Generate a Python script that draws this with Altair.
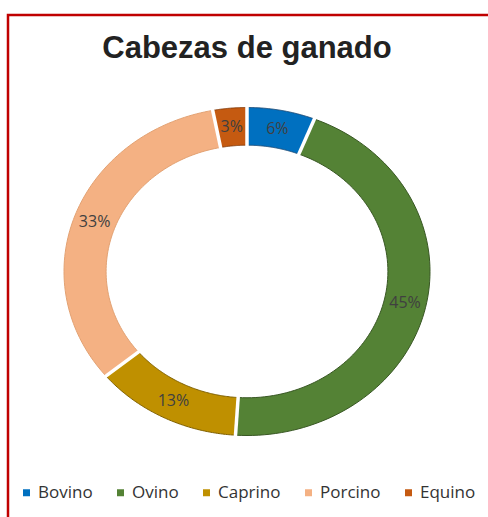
import altair as alt
import pandas as pd

title_text = "Cabezas de ganado"
categories = ["Bovino", "Ovino", "Caprino", "Porcino", "Equino"]
values = [6, 45, 13, 33, 3]
fill_colors = ["#0070C0", "#548235", "#BF9000", "#F4B183", "#C55A11"]
edge_colors = ["#1F4E79", "#385723", "#7F6000", "#E3A273", "#843C0C"]

df = pd.DataFrame({"cat": categories, "val": values, "k": list(range(len(categories)))})
title_df = pd.DataFrame({"t": [title_text]})

W, H = 488, 517
CX, CY = 247, 271.5
RX, RY = 183, 164
INNER = 0.77
N = 90

xs = alt.Scale(domain=[-1, 1], range=[CX - RX, CX + RX], nice=False, zero=False)
ys = alt.Scale(domain=[-1, 1], range=[CY + RY, CY - RY], nice=False, zero=False)

base = (
    alt.Chart(df)
    .transform_joinaggregate(total="sum(val)")
    .transform_window(cum="sum(val)", sort=[alt.SortField("k")], frame=[None, 0])
    .transform_calculate(a0="2*PI*(datum.cum - datum.val)/datum.total")
    .transform_calculate(a1="2*PI*datum.cum/datum.total")
)

slices = (
    base.transform_calculate(pts=f"sequence(0, {2 * N + 3})")
    .transform_flatten(["pts"], as_=["i"])
    .transform_calculate(
        t=f"datum.i <= {N} ? datum.i/{N} : (datum.i <= {2 * N + 1} ? ({2 * N + 1} - datum.i)/{N} : 0)"
    )
    .transform_calculate(r=f"(datum.i <= {N} || datum.i > {2 * N + 1}) ? 1 : {INNER}")
    .transform_calculate(ang="datum.a0 + (datum.a1 - datum.a0)*datum.t")
    .transform_calculate(px="datum.r*sin(datum.ang)")
    .transform_calculate(py="datum.r*cos(datum.ang)")
    .mark_line(strokeWidth=1)
    .encode(
        x=alt.X("px:Q", scale=xs, axis=None),
        y=alt.Y("py:Q", scale=ys, axis=None),
        order=alt.Order("i:Q"),
        detail="cat:N",
        fill=alt.Fill(
            "cat:N",
            scale=alt.Scale(domain=categories, range=fill_colors),
            legend=alt.Legend(
                orient="none",
                legendX=18,
                legendY=484,
                direction="horizontal",
                title=None,
                symbolType="square",
                symbolSize=49,
                symbolStrokeWidth=0,
                labelFont="Open Sans",
                labelFontSize=17,
                labelColor="#333333",
                labelOffset=3,
                columnPadding=19,
            ),
        ),
        stroke=alt.Stroke(
            "cat:N", scale=alt.Scale(domain=categories, range=edge_colors), legend=None
        ),
    )
)

gaps = (
    base.transform_calculate(gx1=f"{INNER - 0.03}*sin(datum.a0)")
    .transform_calculate(gy1=f"{INNER - 0.03}*cos(datum.a0)")
    .transform_calculate(gx2="1.03*sin(datum.a0)")
    .transform_calculate(gy2="1.03*cos(datum.a0)")
    .mark_rule(color="white", strokeWidth=3.5)
    .encode(
        x=alt.X("gx1:Q", scale=xs, axis=None),
        y=alt.Y("gy1:Q", scale=ys, axis=None),
        x2="gx2:Q",
        y2="gy2:Q",
    )
)

MID = (1 + INNER) / 2
labels = (
    base.transform_calculate(am="(datum.a0 + datum.a1)/2")
    .transform_calculate(lx=f"{MID}*sin(datum.am)")
    .transform_calculate(ly=f"{MID}*cos(datum.am)")
    .transform_calculate(txt="datum.val + '%'")
    .mark_text(font="Open Sans", fontSize=16, color="#404040")
    .encode(
        x=alt.X("lx:Q", scale=xs, axis=None),
        y=alt.Y("ly:Q", scale=ys, axis=None),
        text="txt:N",
    )
)

title = (
    alt.Chart(title_df)
    .mark_text(
        font="Liberation Sans",
        fontSize=31,
        fontWeight="bold",
        color="#222222",
        baseline="alphabetic",
        align="center",
    )
    .encode(x=alt.value(247), y=alt.value(58), text="t:N")
)

border = (
    alt.Chart(title_df)
    .mark_rect(filled=False, stroke="#C00000", strokeWidth=2.5)
    .encode(x=alt.value(8), x2=alt.value(W + 30), y=alt.value(15), y2=alt.value(H + 30))
)

chart = (
    alt.layer(border, slices, gaps, labels, title)
    .properties(width=W, height=H, padding=0, autosize="none", background="white")
    .configure_view(stroke=None)
)

chart.save("out.html", embed_options={"renderer": "svg", "actions": False})
